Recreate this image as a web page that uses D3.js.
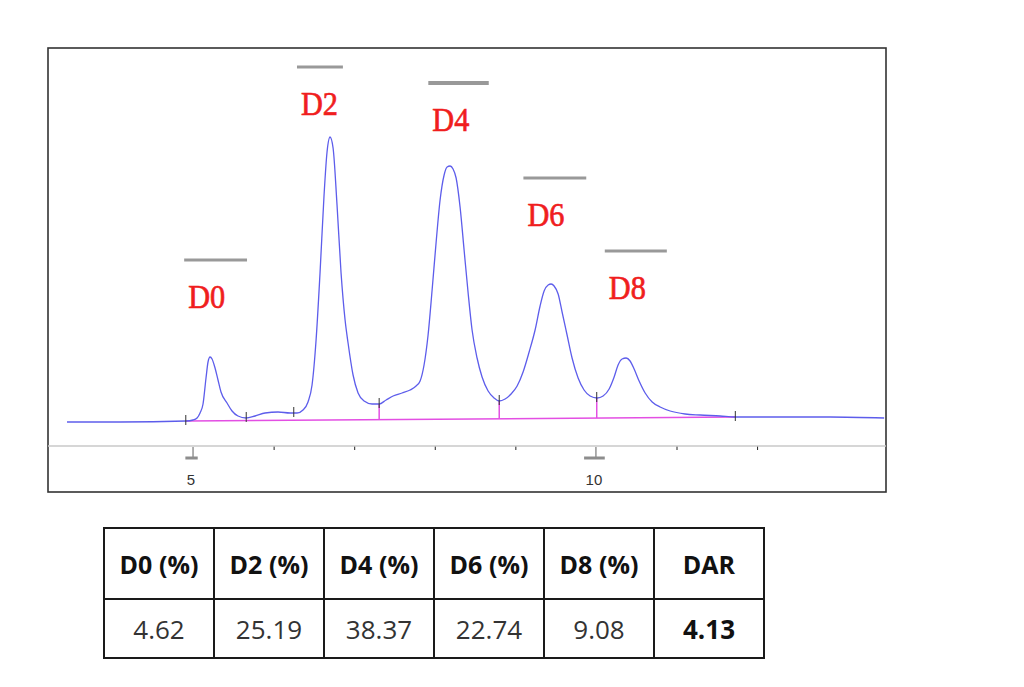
<!DOCTYPE html>
<meta charset="utf-8">
<style>
body { margin: 0; background: #fff; }
svg { display: block; }
</style>
<body>
<script src="https://d3js.org/d3.v7.min.js"></script>
<script>
// retention time (min) and detector signal
var rt = [3.436, 4.094, 4.913, 5.000, 5.050, 5.087, 5.124, 5.161, 5.186, 5.211,
          5.236, 5.273, 5.310, 5.347, 5.422, 5.484, 5.558, 5.658, 5.770, 5.894,
          6.055, 6.204, 6.291, 6.365, 6.427, 6.477, 6.527, 6.576, 6.626, 6.663,
          6.700, 6.738, 6.787, 6.837, 6.887, 6.924, 6.986, 7.048, 7.123, 7.222,
          7.309, 7.396, 7.483, 7.594, 7.694, 7.768, 7.818, 7.867, 7.917, 7.967,
          8.016, 8.066, 8.116, 8.153, 8.190, 8.227, 8.265, 8.314, 8.364, 8.414,
          8.463, 8.525, 8.587, 8.662, 8.736, 8.798, 8.873, 8.947, 9.022, 9.096,
          9.171, 9.245, 9.307, 9.357, 9.407, 9.444, 9.481, 9.531, 9.580, 9.642,
          9.704, 9.779, 9.853, 9.928, 10.015, 10.089, 10.164, 10.226, 10.275, 10.325,
          10.375, 10.424, 10.474, 10.536, 10.611, 10.698, 10.797, 10.921, 11.107, 11.293,
          11.542, 11.728, 12.286, 12.907, 13.577];
var signal = [-1, -1, 0, 1, 3, 8, 17, 43, 59, 64,
              62, 53, 41, 29, 18, 10, 5, 3, 5, 8,
              9, 8, 8, 11, 19, 36, 81, 148, 226, 269,
              284, 273, 216, 148, 101, 78, 46, 28, 20, 17,
              17, 21, 25, 28, 31, 35, 40, 56, 86, 131,
              178, 221, 246, 254, 255, 252, 243, 214, 171, 128,
              91, 63, 44, 30, 23, 20, 22, 27, 35, 49,
              69, 91, 115, 130, 136, 137, 135, 127, 109, 86,
              63, 43, 31, 25, 23, 25, 32, 44, 56, 62,
              63, 60, 52, 40, 28, 19, 14, 10, 7, 6,
              5, 4, 4, 4, 3];

// integration events
var cutTimes = [4.91, 5.66, 6.25, 7.31, 8.80, 10.01, 11.73];
var dropTimes = [7.31, 8.80, 10.01];
var baseTimes = [4.91, 11.73];
var baseSignal = [0, 4];

// peak names and the grey marker bar above each
var peakNames = ["D0", "D2", "D4", "D6", "D8"];
var barFrom = [4.89, 6.29, 7.92, 9.10, 10.11];
var barTo = [5.67, 6.86, 8.67, 9.88, 10.88];
var barLevel = [161, 354, 338, 243, 170];

var minorTicks = [6, 7, 8, 9, 11, 12];
var majorTicks = [5, 10];

// result table
var tableHead = ["D0 (%)", "D2 (%)", "D4 (%)", "D6 (%)", "D8 (%)", "DAR"];
var tableValues = ["4.62", "25.19", "38.37", "22.74", "9.08", "4.13"];

var W = 1024, H = 687;
var frame = {left: 48, top: 48, right: 886, bottom: 492};
var axisY = 446;

var svg = d3.select("body").append("svg")
    .attr("width", W)
    .attr("height", H);

var x = d3.scaleLinear().domain([3.2, 13.6]).range([frame.left, frame.right]);
var y = d3.scaleLinear().domain([-25, 373]).range([axisY, frame.top]);

// frame
svg.append("rect")
    .attr("x", frame.left).attr("y", frame.top)
    .attr("width", frame.right - frame.left)
    .attr("height", frame.bottom - frame.top)
    .attr("fill", "none")
    .attr("stroke", "#333")
    .attr("stroke-width", 1.6);

// time axis
var xAxis = d3.axisBottom(x).tickValues(minorTicks).tickSize(4).tickFormat("");
var gx = svg.append("g")
    .attr("transform", "translate(0," + axisY + ")")
    .call(xAxis);
gx.select(".domain").remove();
gx.selectAll(".tick line").attr("stroke", "#222").attr("stroke-width", 1);
gx.append("line")
    .attr("x1", frame.left).attr("x2", frame.right)
    .attr("stroke", "#c9c9c9").attr("stroke-width", 1.6);

var major = svg.append("g").selectAll("g")
    .data(majorTicks)
    .join("g")
    .attr("transform", function(d) { return "translate(" + x(d) + "," + axisY + ")"; });
major.append("line")
    .attr("y1", 1).attr("y2", 12)
    .attr("stroke", "#8d8d8d").attr("stroke-width", 1.4);
major.append("text")
    .attr("x", -2).attr("y", 39)
    .attr("text-anchor", "middle")
    .attr("font-family", "Liberation Sans, Arial, sans-serif")
    .attr("font-size", 15)
    .attr("fill", "#333")
    .text(function(d) { return d; });
major.each(function() {
    var g = d3.select(this);
    var w = g.select("text").node().getComputedTextLength();
    g.append("line")
        .attr("x1", -1.5 - w / 2 - 2).attr("x2", -1.5 + w / 2 + 2)
        .attr("y1", 12).attr("y2", 12)
        .attr("stroke", "#8d8d8d").attr("stroke-width", 3);
});

// baseline and drop lines
var baseAt = d3.scaleLinear().domain(baseTimes).range(baseSignal);
var bisect = d3.bisector(function(d) { return d; }).center;
function traceAt(t) { return signal[bisect(rt, t)]; }

svg.append("line")
    .attr("x1", x(baseTimes[0])).attr("y1", y(baseSignal[0]))
    .attr("x2", x(baseTimes[1])).attr("y2", y(baseSignal[1]))
    .attr("stroke", "#e34fe3").attr("stroke-width", 1.5);

svg.append("g").selectAll("line")
    .data(dropTimes)
    .join("line")
    .attr("x1", function(d) { return x(d); })
    .attr("x2", function(d) { return x(d); })
    .attr("y1", function(d) { return y(traceAt(d)); })
    .attr("y2", function(d) { return y(baseAt(d)); })
    .attr("stroke", "#e34fe3").attr("stroke-width", 1.5);

// the trace
var line = d3.line()
    .x(function(d, i) { return x(rt[i]); })
    .y(function(d) { return y(d); })
    .curve(d3.curveMonotoneX);

svg.append("path")
    .attr("d", line(signal))
    .attr("fill", "none")
    .attr("stroke", "#5d5deb")
    .attr("stroke-width", 1.3);

// integration marks
svg.append("g").selectAll("line")
    .data(cutTimes)
    .join("line")
    .attr("x1", function(d) { return x(d); })
    .attr("x2", function(d) { return x(d); })
    .attr("y1", function(d) { return y(traceAt(d)) - 6; })
    .attr("y2", function(d) { return y(traceAt(d)) + 4; })
    .attr("stroke", "#333").attr("stroke-width", 1);

// peak names
var peaks = svg.append("g").selectAll("g")
    .data(peakNames)
    .join("g");
peaks.append("line")
    .attr("x1", function(d, i) { return x(barFrom[i]); })
    .attr("x2", function(d, i) { return x(barTo[i]); })
    .attr("y1", function(d, i) { return y(barLevel[i]); })
    .attr("y2", function(d, i) { return y(barLevel[i]); })
    .attr("stroke", "#999")
    .attr("stroke-width", function(d) { return d === "D4" ? 4 : 3; });
peaks.append("text")
    .attr("x", function(d, i) { return x(barFrom[i]) + 4; })
    .attr("y", function(d, i) { return y(barLevel[i]) + 48; })
    .attr("font-family", "Liberation Serif, Times New Roman, serif")
    .attr("font-size", 34)
    .attr("textLength", 37)
    .attr("lengthAdjust", "spacingAndGlyphs")
    .attr("fill", "#f01e1e")
    .attr("stroke", "#f01e1e")
    .attr("stroke-width", 0.7)
    .text(function(d) { return d; });

// table
var tbl = {left: 104, top: 528, colW: 110, headH: 71, rowH: 59};
var tx = d3.scaleBand().domain(d3.range(tableHead.length))
    .range([tbl.left, tbl.left + tbl.colW * tableHead.length]);
var tg = svg.append("g");

tg.selectAll("text.head")
    .data(tableHead)
    .join("text")
    .attr("class", "head")
    .attr("x", function(d, i) { return tx(i) + tx.bandwidth() / 2; })
    .attr("y", tbl.top + tbl.headH / 2 + 10)
    .attr("text-anchor", "middle")
    .attr("font-family", "Open Sans, sans-serif")
    .attr("font-weight", "bold")
    .attr("font-size", 25)
    .attr("fill", "#111")
    .text(function(d) { return d; });

tg.selectAll("text.val")
    .data(tableValues)
    .join("text")
    .attr("class", "val")
    .attr("x", function(d, i) { return tx(i) + tx.bandwidth() / 2; })
    .attr("y", tbl.top + tbl.headH + tbl.rowH / 2 + 10.5)
    .attr("text-anchor", "middle")
    .attr("font-family", "Open Sans, sans-serif")
    .attr("font-weight", function(d, i) { return i === tableValues.length - 1 ? "bold" : "normal"; })
    .attr("font-size", 26)
    .attr("fill", function(d, i) { return i === tableValues.length - 1 ? "#111" : "#333"; })
    .text(function(d) { return d; });

var tRight = tbl.left + tbl.colW * tableHead.length;
var tBottom = tbl.top + tbl.headH + tbl.rowH;
tg.append("rect")
    .attr("x", tbl.left).attr("y", tbl.top)
    .attr("width", tRight - tbl.left).attr("height", tBottom - tbl.top)
    .attr("fill", "none").attr("stroke", "#1a1a1a").attr("stroke-width", 2);
tg.append("line")
    .attr("x1", tbl.left).attr("x2", tRight)
    .attr("y1", tbl.top + tbl.headH).attr("y2", tbl.top + tbl.headH)
    .attr("stroke", "#1a1a1a").attr("stroke-width", 2);
tg.selectAll("line.col")
    .data(d3.range(1, tableHead.length))
    .join("line")
    .attr("class", "col")
    .attr("x1", function(d) { return tx(d); })
    .attr("x2", function(d) { return tx(d); })
    .attr("y1", tbl.top).attr("y2", tBottom)
    .attr("stroke", "#1a1a1a").attr("stroke-width", 2);
</script>
</body>
